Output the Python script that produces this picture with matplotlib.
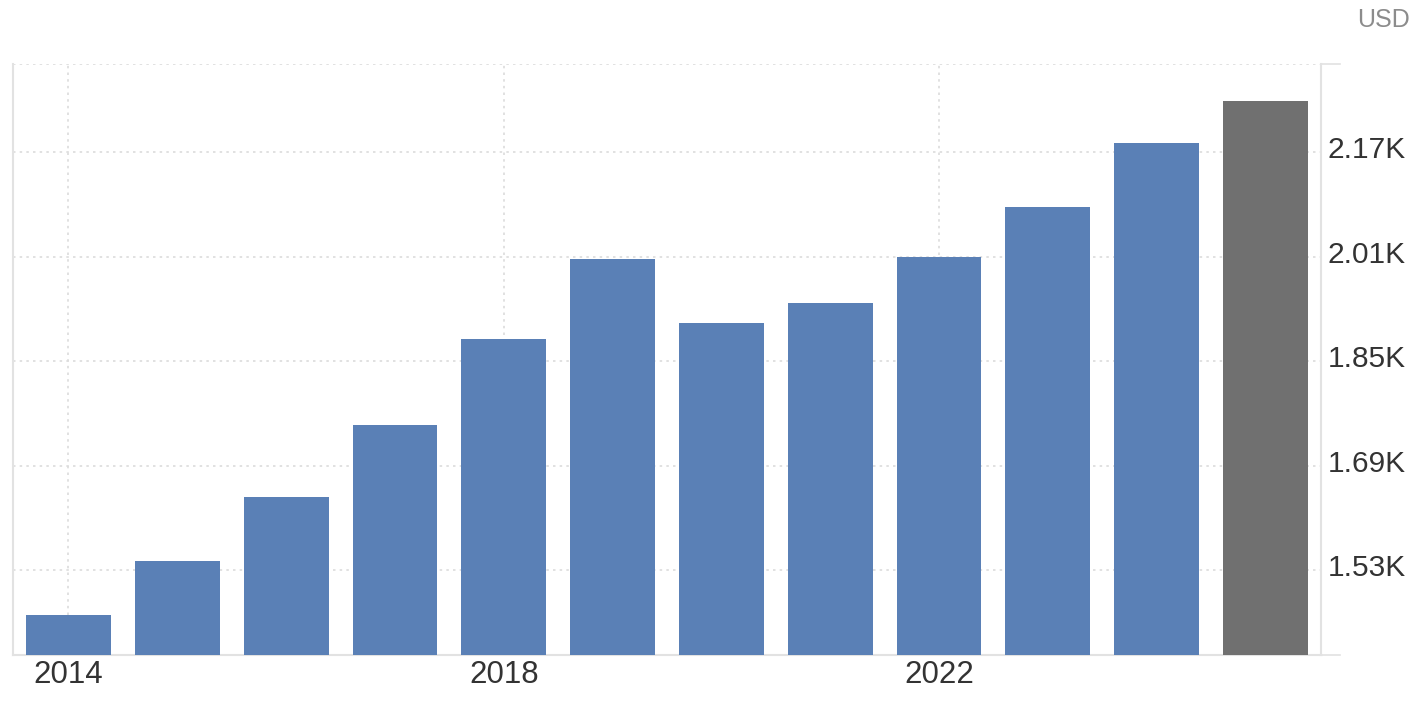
import matplotlib
matplotlib.use("Agg")
import matplotlib.pyplot as plt
import matplotlib.transforms as mtransforms

years = [2014, 2015, 2016, 2017, 2018, 2019, 2020, 2021, 2022, 2023, 2024, 2025]
values = [1461, 1544, 1642, 1752, 1884, 2006, 1908, 1939, 2009, 2086, 2184, 2248]
forecast = [False] * 11 + [True]
ytick_vals = [1530, 1690, 1850, 2010, 2170]
ytick_labels = ["1.53K", "1.69K", "1.85K", "2.01K", "2.17K"]
xtick_years = [2014, 2018, 2022]
unit_label = "USD"

blue = "#5a80b6"
grey = "#707070"
grid_c = "#dcdcdc"
spine_c = "#e2e2e2"

plt.rcParams['font.family'] = ['Liberation Sans', 'DejaVu Sans']

fig = plt.figure(figsize=(14.26, 7.04), dpi=100)
ax = fig.add_axes([13/1426, 49/704, (1321-13)/1426, (655-64)/704])

x = list(range(len(years)))
colors = [grey if f else blue for f in forecast]
ax.bar(x, values, width=0.78, color=colors, zorder=3)

ax.set_xlim(-0.51, len(years) - 0.49)
ax.set_ylim(1400, 2305)

ax.yaxis.tick_right()
ax.set_yticks(ytick_vals)
ax.set_yticklabels(ytick_labels)
ax.set_xticks([years.index(y) for y in xtick_years])
ax.set_xticklabels([str(y) for y in xtick_years])

ax.tick_params(axis='y', length=0, pad=5, labelsize=21.5, labelcolor="#333333")
ax.tick_params(axis='x', length=0, pad=2, labelsize=22.5, labelcolor="#333333")

offset = mtransforms.ScaledTranslation(0, 5/100, fig.dpi_scale_trans)
for lbl in ax.get_yticklabels():
    lbl.set_transform(lbl.get_transform() + offset)
offx = mtransforms.ScaledTranslation(0, -2/100, fig.dpi_scale_trans)
for lbl in ax.get_xticklabels():
    lbl.set_transform(lbl.get_transform() + offx)

ax.grid(True, which='major', linestyle=(0, (1.5, 2.5)), color=grid_c, linewidth=1.2, zorder=0)
ax.axhline(2305, linestyle=(0, (1.5, 2.5)), color=grid_c, linewidth=1.2, zorder=0)

for side in ['left', 'bottom', 'right']:
    ax.spines[side].set_color(spine_c)
    ax.spines[side].set_linewidth(1.5)
ax.spines['top'].set_visible(False)

for yy in (0, 1):
    ax.plot([1, 1 + 19/1308], [yy, yy], transform=ax.transAxes, color=spine_c,
            linewidth=1.2, clip_on=False)

fig.text(1410/1426, 1 - 20/704, unit_label, ha='right', va='center',
         fontsize=18, color="#8c8c8c")

fig.savefig("out.png", dpi=100, facecolor="white")
